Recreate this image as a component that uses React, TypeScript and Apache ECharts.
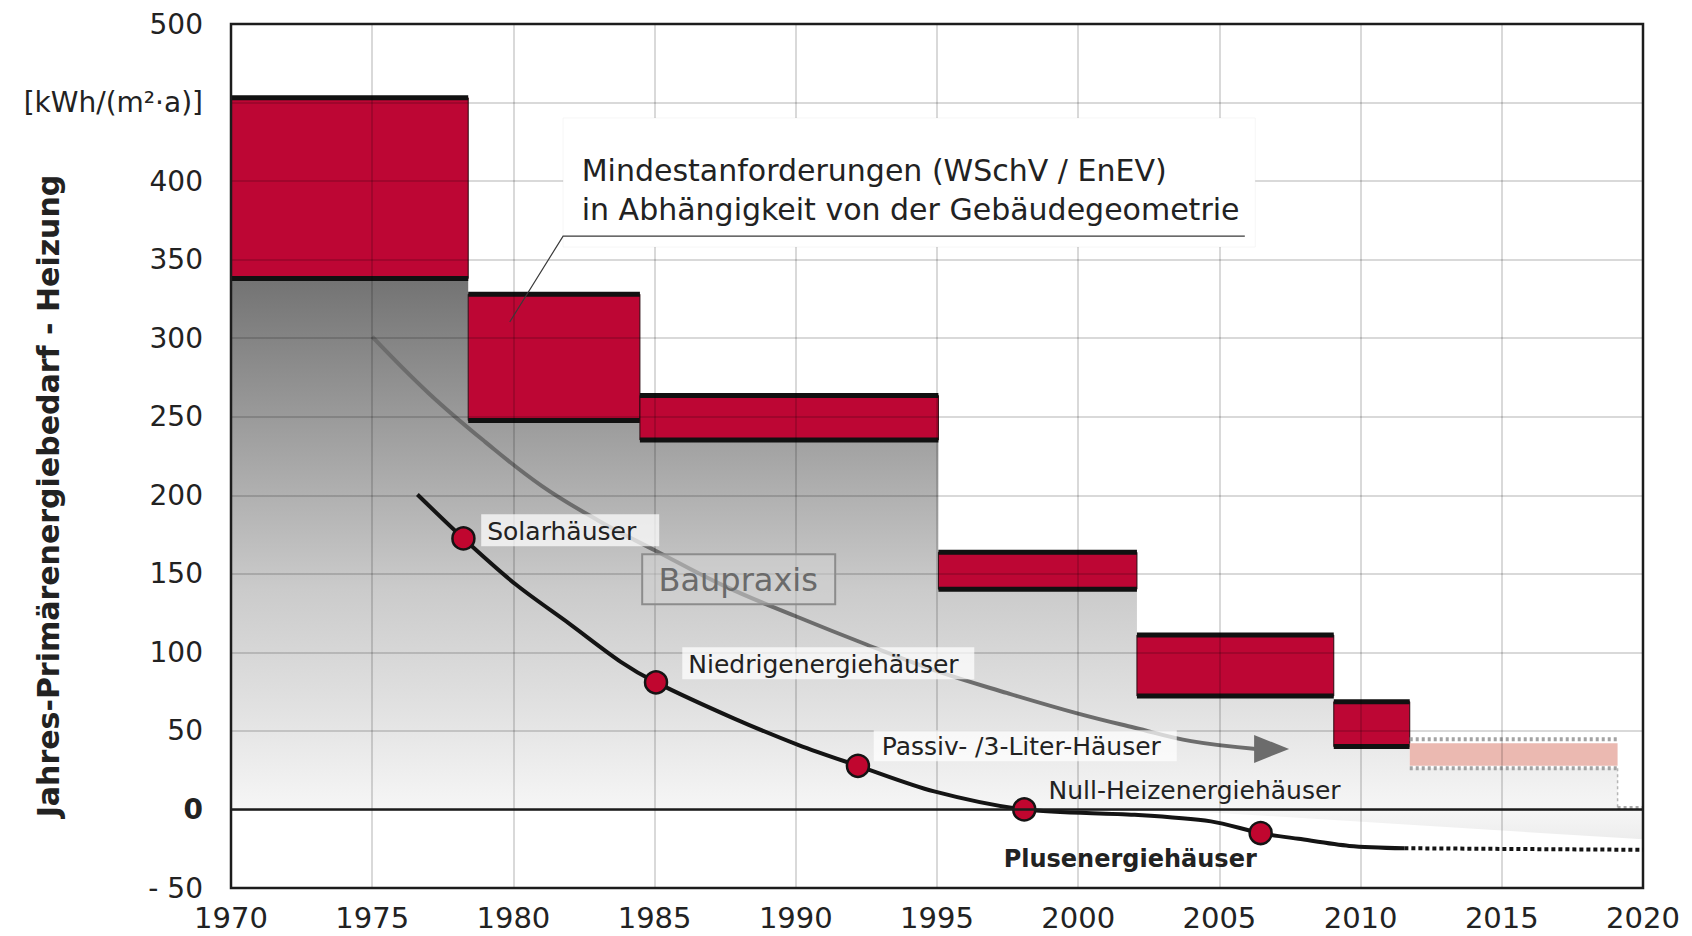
import React, { useEffect, useRef } from "react";
import * as echarts from "echarts";

// ---- data ----
// Mindestanforderungen (WSchV / EnEV): ranges per period
const stdStart = [1970, 1978.4, 1984.48, 1995.05, 2002.08, 2009.05];
const stdEnd = [1978.4, 1984.48, 1995.05, 2002.08, 2009.05, 2011.74];
const stdLow = [338, 247.6, 235.2, 140.2, 72.2, 40];
const stdHigh = [453, 328, 263.5, 163.7, 111, 68.6];

// future requirement (dotted, pale)
const futureRange = [2011.74, 2019.1];
const futureBounds = [26.2, 44.7];
const futureFill = [27.9, 42.1];

// Baupraxis shading continues below zero at the right end
const wedgeStartYear = 2003;
const wedgeEndValue = -19;

// Baupraxis curve (grey arrow)
const practiceYears = [1975, 1977, 1979, 1981, 1983, 1985, 1987.5, 1990, 1992.5, 1995, 1997.5, 2000, 2002, 2004, 2006.3];
const practiceValues = [301, 265, 234, 206, 184, 165, 142, 123, 105, 88, 74, 61, 52, 43.5, 38.5];

// Best-practice curve (black)
const houseYears = [1976.6, 1978.23, 1980.1, 1982, 1983.8, 1985.05, 1987.8, 1990.1, 1992.2, 1994.9, 1998.09, 2002, 2004.7, 2006.46, 2007.8, 2009.6, 2011.55];
const houseValues = [200.5, 172.5, 143, 118, 94, 80.9, 58, 41, 27.8, 11.5, 0, -3.4, -7.6, -15, -18.7, -23.2, -24.7];
const plusYears = [2011.55, 2020];
const plusValues = [-24.7, -25.7];

// milestones on the black curve
const markerNames = ["Solarhäuser", "Niedrigenergiehäuser", "Passiv- /3-Liter-Häuser", "Null-Heizenergiehäuser", "Plusenergiehäuser"];
const markerYears = [1978.23, 1985.05, 1992.2, 1998.09, 2006.46];
const markerValues = [172.5, 80.9, 27.8, 0, -15];

const FONT = "'DejaVu Sans', 'Liberation Sans', sans-serif";

// label layout (data anchor, left-middle of box)
const houseLabels = [
  { text: markerNames[0], x: 1978.86, y: 177.8, w: 178, h: 32, pad: 6, box: true, bold: false, size: 25 },
  { text: markerNames[1], x: 1985.98, y: 93, w: 292, h: 32, pad: 6, box: true, bold: false, size: 25 },
  { text: markerNames[2], x: 1992.76, y: 40.5, w: 303, h: 31, pad: 8, box: true, bold: false, size: 25 },
  { text: markerNames[3], x: 1998.95, y: 12.7, w: 300, h: 30, pad: 0, box: false, bold: false, size: 25 },
  { text: markerNames[4], x: 1997.36, y: -30.6, w: 260, h: 30, pad: 0, box: false, bold: true, size: 24 },
];

const noteLines = ["Mindestanforderungen (WSchV / EnEV)", "in Abhängigkeit von der Gebäudegeometrie"];

const App = () => {
  const ref = useRef<HTMLDivElement>(null);

  useEffect(() => {
    if (!ref.current) return;
    const chart = echarts.init(ref.current, null, { renderer: "svg" });

    const areaPts: number[][] = [[stdStart[0], 0]];
    for (let i = 0; i < stdStart.length; i++) {
      areaPts.push([stdStart[i], stdLow[i]], [stdEnd[i], stdLow[i]]);
    }
    areaPts.push(
      [futureRange[0], futureBounds[0]],
      [futureRange[1], futureBounds[0]],
      [futureRange[1], 0],
      [2020, 0],
      [2020, wedgeEndValue],
      [wedgeStartYear, 0]
    );

    const option: any = {
      animation: false,
      backgroundColor: "#ffffff",
      grid: {
        left: 231,
        right: 49,
        top: 24,
        bottom: 48,
        show: true,
        borderColor: "#1c1c1c",
        borderWidth: 2.5,
        backgroundColor: "transparent",
        z: 6,
      },
      xAxis: {
        type: "value",
        min: 1970,
        max: 2020,
        interval: 5,
        z: 5,
        axisLine: { show: false },
        axisTick: { show: false },
        axisLabel: {
          fontFamily: FONT,
          fontSize: 29,
          lineHeight: 30,
          color: "#222",
          margin: 15,
          formatter: (v: number) => String(v),
        },
        splitLine: { show: true, lineStyle: { color: "rgba(0,0,0,0.2)", width: 1.5 } },
      },
      yAxis: {
        type: "value",
        min: -50,
        max: 500,
        interval: 50,
        z: 5,
        axisLine: { show: false },
        axisTick: { show: false },
        axisLabel: {
          fontFamily: FONT,
          fontSize: 28,
          color: "#222",
          margin: 28,
          formatter: (v: number) => {
            if (v === 450) return "[kWh/(m²·a)]";
            if (v === 0) return "{b|0}";
            if (v < 0) return "- " + Math.abs(v);
            return String(v);
          },
          rich: { b: { fontFamily: FONT, fontSize: 28, fontWeight: "bold", color: "#222" } },
        },
        splitLine: { show: true, lineStyle: { color: "rgba(0,0,0,0.2)", width: 1.5 } },
      },
      graphic: [
        {
          type: "text",
          x: 48,
          y: 496,
          rotation: Math.PI / 2,
          z: 20,
          style: {
            text: "Jahres-Primärenergiebedarf - Heizung",
            font: `bold 30px ${FONT}`,
            fill: "#222",
            align: "center",
            verticalAlign: "middle",
            textAlign: "center",
            textVerticalAlign: "middle",
          },
        },
      ],
      series: [
        {
          name: "Baupraxis-Fläche",
          type: "custom",
          z: 1,
          data: [[0]],
          renderItem: (_p: any, api: any) => {
            const pts = areaPts.map((p) => api.coord(p));
            return {
              type: "polygon",
              shape: { points: pts },
              style: {
                fill: {
                  type: "linear",
                  x: 0,
                  y: 0,
                  x2: 0,
                  y2: 1,
                  colorStops: [
                    { offset: 0, color: "#737373" },
                    { offset: 0.308, color: "#a4a4a4" },
                    { offset: 0.555, color: "#cbcbcb" },
                    { offset: 0.745, color: "#dfdfdf" },
                    { offset: 0.947, color: "#f6f6f6" },
                    { offset: 1, color: "#ededed" },
                  ],
                },
              },
            };
          },
        },
        {
          name: "Mindestanforderungen",
          type: "custom",
          z: 2,
          encode: { x: [0, 1], y: [2, 3] },
          data: stdStart.map((s, i) => [s, stdEnd[i], stdLow[i], stdHigh[i]]),
          renderItem: (_p: any, api: any) => {
            const a = api.coord([api.value(0), api.value(3)]);
            const b = api.coord([api.value(1), api.value(2)]);
            return {
              type: "group",
              children: [
                {
                  type: "rect",
                  shape: { x: a[0], y: a[1], width: b[0] - a[0], height: b[1] - a[1] },
                  style: { fill: "#bd0634", stroke: "#2a0a10", lineWidth: 1 },
                },
                { type: "line", shape: { x1: a[0], y1: a[1], x2: b[0], y2: a[1] }, style: { stroke: "#111", lineWidth: 5 } },
                { type: "line", shape: { x1: a[0], y1: b[1], x2: b[0], y2: b[1] }, style: { stroke: "#111", lineWidth: 5 } },
              ],
            };
          },
        },
        {
          name: "Zukunft",
          type: "custom",
          z: 2,
          data: [[futureRange[0], futureRange[1], futureBounds[0], futureBounds[1]]],
          renderItem: (_p: any, api: any) => {
            const f0 = api.coord([futureRange[0], futureFill[1]]);
            const f1 = api.coord([futureRange[1], futureFill[0]]);
            const t0 = api.coord([futureRange[0], futureBounds[1]]);
            const t1 = api.coord([futureRange[1], futureBounds[1]]);
            const l0 = api.coord([futureRange[0], futureBounds[0]]);
            const l1 = api.coord([futureRange[1], futureBounds[0]]);
            const z1 = api.coord([futureRange[1], 0]);
            const z2 = api.coord([2020, 0]);
            return {
              type: "group",
              children: [
                { type: "rect", shape: { x: f0[0], y: f0[1], width: f1[0] - f0[0], height: f1[1] - f0[1] }, style: { fill: "#ebb9b1" } },
                { type: "line", shape: { x1: t0[0], y1: t0[1], x2: t1[0], y2: t1[1] }, style: { stroke: "#a3a3a3", lineWidth: 4, lineDash: [3, 3] } },
                { type: "line", shape: { x1: l0[0], y1: l0[1], x2: l1[0], y2: l1[1] }, style: { stroke: "#a3a3a3", lineWidth: 4, lineDash: [3, 3] } },
                { type: "line", shape: { x1: l1[0], y1: l1[1], x2: z1[0], y2: z1[1] - 2 }, style: { stroke: "#b5b5b5", lineWidth: 1.5, lineDash: [3, 3] } },
                { type: "line", shape: { x1: z1[0], y1: z1[1] - 2, x2: z2[0], y2: z2[1] - 2 }, style: { stroke: "#a8a8a8", lineWidth: 3, lineDash: [3, 3] } },
              ],
            };
          },
        },
        {
          name: "Baupraxis",
          type: "line",
          z: 3,
          smooth: 0.4,
          showSymbol: false,
          data: practiceYears.map((x, i) => [x, practiceValues[i]]),
          lineStyle: { color: "#6c6c6c", width: 4 },
        },
        {
          name: "Niedrigstenergie",
          type: "line",
          z: 7,
          smooth: 0.3,
          showSymbol: false,
          data: houseYears.map((x, i) => [x, houseValues[i]]),
          lineStyle: { color: "#141414", width: 4 },
        },
        {
          name: "Plus (Ausblick)",
          type: "line",
          z: 7,
          showSymbol: false,
          data: plusYears.map((x, i) => [x, plusValues[i]]),
          lineStyle: { color: "#141414", width: 4, type: [4, 3] },
        },
        {
          name: "Meilensteine",
          type: "scatter",
          z: 8,
          symbol: "circle",
          symbolSize: 22,
          data: markerYears.map((x, i) => [x, markerValues[i]]),
          itemStyle: { color: "#c0062f", borderColor: "#141414", borderWidth: 2.5, opacity: 1 },
        },
        {
          name: "Beschriftung",
          type: "custom",
          z: 9,
          data: [[0]],
          renderItem: (_p: any, api: any) => {
            const children: any[] = [];
            // zero line
            const zl = api.coord([1970, 0]);
            const zr = api.coord([2020, 0]);
            children.push({ type: "line", shape: { x1: zl[0], y1: zl[1], x2: zr[0], y2: zr[1] }, style: { stroke: "#1c1c1c", lineWidth: 2.5 } });

            // arrow head of Baupraxis curve
            const last = api.coord([practiceYears[practiceYears.length - 1], practiceValues[practiceValues.length - 1]]);
            children.push({
              type: "polygon",
              shape: { points: [[last[0] - 2, last[1] - 14], [last[0] + 33, last[1]], [last[0] - 2, last[1] + 14]] },
              style: { fill: "#6c6c6c" },
            });

            // Mindestanforderungen note box
            const n0 = api.coord([1981.76, 440.2]);
            const n1 = api.coord([2006.27, 358]);
            children.push({
              type: "rect",
              shape: { x: n0[0], y: n0[1], width: n1[0] - n0[0], height: n1[1] - n0[1] },
              style: { fill: "#ffffff", stroke: "rgba(0,0,0,0.04)", lineWidth: 1 },
            });
            const l1 = api.coord([1982.42, 406.7]);
            const l2 = api.coord([1982.42, 381.6]);
            children.push({ type: "text", style: { text: noteLines[0], x: l1[0], y: l1[1], font: `30px ${FONT}`, fill: "#222", align: "left", verticalAlign: "middle", textAlign: "left", textVerticalAlign: "middle" } });
            children.push({ type: "text", style: { text: noteLines[1], x: l2[0], y: l2[1], font: `30px ${FONT}`, fill: "#222", align: "left", verticalAlign: "middle", textAlign: "left", textVerticalAlign: "middle" } });
            const u0 = api.coord([1981.76, 365]);
            const u1 = api.coord([2005.9, 365]);
            const ld = api.coord([1979.87, 310.3]);
            children.push({ type: "polyline", shape: { points: [[u1[0], u1[1]], [u0[0], u0[1]], [ld[0], ld[1]]] }, style: { stroke: "#3a3a3a", lineWidth: 1.2, fill: null } });

            // Baupraxis label
            const bc = api.coord([1987.96, 146.6]);
            children.push({
              type: "rect",
              shape: { x: bc[0] - 96, y: bc[1] - 25, width: 193, height: 50 },
              style: { fill: "rgba(210,210,210,0.55)", stroke: "#8c8c8c", lineWidth: 2 },
            });
            children.push({ type: "text", style: { text: "Baupraxis", x: bc[0], y: bc[1] + 1, font: `32px ${FONT}`, fill: "#6a6a6a", align: "center", verticalAlign: "middle", textAlign: "center", textVerticalAlign: "middle" } });

            // milestone labels
            houseLabels.forEach((lb) => {
              const p = api.coord([lb.x, lb.y]);
              if (lb.box) {
                children.push({
                  type: "rect",
                  shape: { x: p[0], y: p[1] - lb.h / 2, width: lb.w, height: lb.h },
                  style: { fill: "rgba(255,255,255,0.72)" },
                });
              }
              children.push({
                type: "text",
                style: {
                  text: lb.text,
                  x: p[0] + lb.pad,
                  y: p[1] + 1,
                  font: `${lb.bold ? "bold " : ""}${lb.size}px ${FONT}`,
                  fill: "#222",
                  align: "left",
                  verticalAlign: "middle",
                  textAlign: "left",
                  textVerticalAlign: "middle",
                },
              });
            });
            return { type: "group", children };
          },
        },
      ],
    };

    chart.setOption(option);
    return () => chart.dispose();
  }, []);

  return (
    <div
      ref={ref}
      style={{ position: "fixed", left: 0, top: 0, width: 1692, height: 936, background: "#fff" }}
    />
  );
};

export default App;
